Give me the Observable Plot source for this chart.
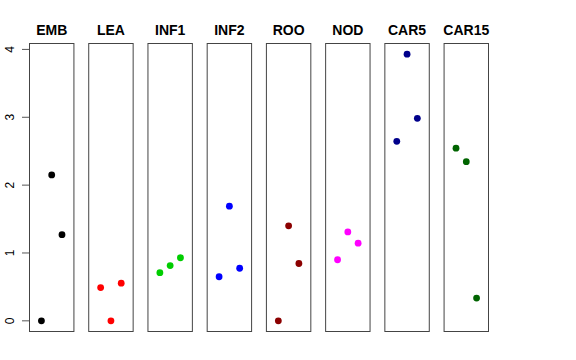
<!DOCTYPE html>
<html>
<head>
<meta charset="utf-8">
<script src="https://cdn.jsdelivr.net/npm/d3@7"></script>
<script src="https://cdn.jsdelivr.net/npm/@observablehq/plot@0.6"></script>
<style>
  body { margin: 0; background: white; }
</style>
</head>
<body>
<div id="chart"></div>
<script>
const panels = ["EMB", "LEA", "INF1", "INF2", "ROO", "NOD", "CAR5", "CAR15"];
const colors = ["#000000", "#FF0000", "#00CD00", "#0000FF", "#8B0000", "#FF00FF", "#00008B", "#006400"];
const positions = [1, 2, 3];
const EMB = [0, 2.15, 1.27];
const LEA = [0.49, 0, 0.555];
const INF1 = [0.71, 0.815, 0.93];
const INF2 = [0.65, 1.69, 0.775];
const ROO = [0, 1.40, 0.845];
const NOD = [0.90, 1.31, 1.145];
const CAR5 = [2.645, 3.93, 2.985];
const CAR15 = [2.545, 2.345, 0.335];
const yTicks = [0, 1, 2, 3, 4];

const series = [EMB, LEA, INF1, INF2, ROO, NOD, CAR5, CAR15];
const rows = [];
series.forEach((vals, i) => {
  vals.forEach((v, j) => rows.push({panel: panels[i], x: positions[j], y: v, color: colors[i]}));
});

const ymin = d3.min(rows, d => d.y), ymax = d3.max(rows, d => d.y);
const ext = 0.04 * (ymax - ymin);

const chart = Plot.plot({
  width: 576,
  height: 360,
  marginTop: 43,
  marginBottom: 29,
  marginLeft: 29,
  marginRight: 88,
  style: {fontFamily: "'Liberation Sans', Arial, sans-serif", fontSize: "12px", color: "black", background: "white"},
  fx: {domain: panels, paddingInner: 0.25, paddingOuter: 0, round: false},
  x: {domain: [-0.16, 4.16], axis: null},
  y: {domain: [ymin - ext, ymax + ext]},
  color: {type: "identity"},
  marks: [
    Plot.frame({stroke: "#444", strokeWidth: 1}),
    Plot.dot(rows, {fx: "panel", x: "x", y: "y", fill: "color", r: 3.4, stroke: null}),
    Plot.axisY({ticks: yTicks, tickFormat: d3.format("d"), tickSize: 7, tickPadding: 9, tickRotate: -90, stroke: "#555", fontSize: 12, label: null, textAnchor: "middle", lineAnchor: "bottom"}),
    Plot.axisFx({anchor: "top", tickSize: 0, tickPadding: 9, fontSize: 14, fontWeight: "bold", label: null})
  ]
});
document.getElementById("chart").appendChild(chart);
</script>
</body>
</html>
